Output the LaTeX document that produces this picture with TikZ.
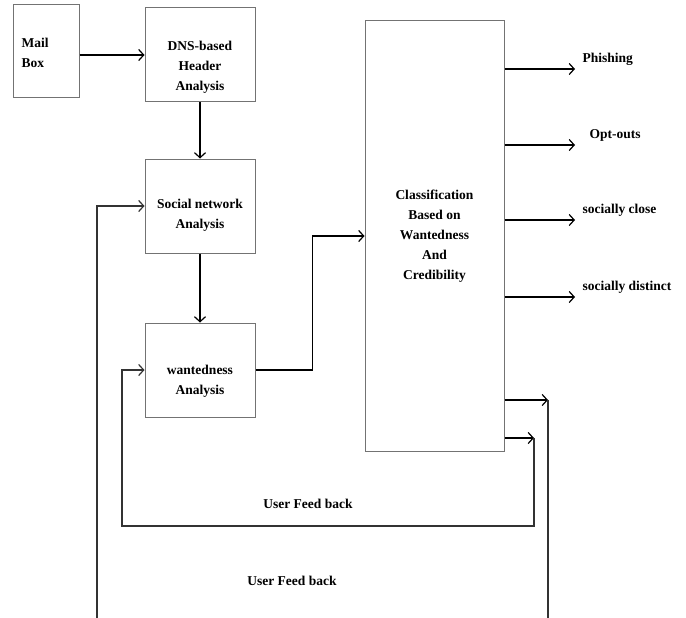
\documentclass[tikz,border=0pt]{standalone}
\usepackage{fontspec}
\setmainfont{Liberation Serif}
\usetikzlibrary{arrows.meta}
\begin{document}
\begin{tikzpicture}[x=1pt,y=-1pt,->,>={Straight Barb[length=5pt,width=11pt,line width=1.2pt]},line width=1.2pt]
        \tikzstyle{block}=[rectangle,draw=black!55,line width=1pt,inner sep=0pt,minimum width=110pt,minimum height=94pt]
        \tikzstyle{txt}=[font=\fontsize{13.5}{20}\selectfont\bfseries,align=center,inner sep=0pt]
        \tikzstyle{outtxt}=[txt,anchor=west]
        \tikzstyle{feedback}=[draw=black!80]

        \useasboundingbox (0,0) rectangle (686,618);

        % Draw the boxes
        \node[block,minimum width=66pt,minimum height=93pt] (mail) at (46,51.5) {};
        \node[txt,align=left,anchor=west] (mail-t) at (21,53) {Mail\\Box};
        \node[block] (dns) at (200,55) {};
        \node[txt] (dns-t) at (200,67) {DNS-based\\Header\\Analysis};
        \node[block] (soc) at (200,206) {};
        \node[txt] (soc-t) at (200,215) {Social network\\Analysis};
        \node[block] (want) at (200,370) {};
        \node[txt] (want-t) at (200,381) {wantedness\\Analysis};
        \node[block,minimum width=139pt,minimum height=431pt] (cls) at (434.5,236) {};
        \node[txt] (cls-t) at (434.5,236) {Classification\\Based on\\Wantedness\\And\\Credibility};

        % Connect the pipeline
        \draw (mail.east |- dns.west) -- (dns.west);
        \draw (dns.south) -- (soc.north);
        \draw (soc.south) -- (want.north);
        \draw (want.east) -- ++(57,0) |- (cls.west);

        % Classes on the right
        \foreach \y/\name/\dx [count=\i] in {69/Phishing/0, 145/Opt-outs/7, 220/socially close/0, 297/socially distinct/0}
        {
            \coordinate (o-\i) at (575,\y);
            \draw (cls.east |- o-\i) -- (o-\i);
            \node[outtxt] (out-\i) at (582+\dx,\y-10) {\name};
        }

        % Feed back loops
        \coordinate (fb1) at (548,400);
        \coordinate (fb1-end) at (548,618);
        \coordinate (fb1-start) at (97,618);
        \draw (cls.east |- fb1) -- (fb1);
        \draw[-,feedback] (fb1) -- (fb1-end);
        \draw[feedback] (fb1-start) |- (soc.west);

        \coordinate (fb2) at (534,438);
        \draw (cls.east |- fb2) -- (fb2);
        \draw[feedback] (fb2) |- (122,526) |- (want.west);

        % Annotate the loops
        \node[txt] (fb2-t) at (308,504) {User Feed back};
        \node[txt] (fb1-t) at (292,581) {User Feed back};
\end{tikzpicture}
\end{document}
